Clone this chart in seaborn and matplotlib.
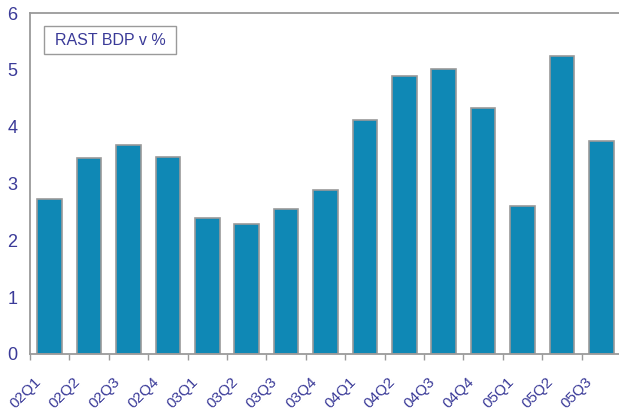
import seaborn as sns
import pandas as pd
import matplotlib.pyplot as plt
import matplotlib.transforms as mtransforms
from matplotlib.patches import Rectangle

# Data
quarters = ['02Q1', '02Q2', '02Q3', '02Q4', '03Q1', '03Q2', '03Q3', '03Q4',
            '04Q1', '04Q2', '04Q3', '04Q4', '05Q1', '05Q2', '05Q3']
growth = [2.73, 3.44, 3.67, 3.46, 2.39, 2.29, 2.55, 2.88,
          4.11, 4.89, 5.01, 4.32, 2.60, 5.24, 3.75]
legend_label = 'RAST BDP v %'

bar_color = '#0f88b5'
edge_color = '#9a9a9a'
text_color = '#3a3a98'

df = pd.DataFrame({'Quarter': quarters, 'Growth': growth})

sns.set_style('white')
plt.rcParams['font.family'] = ['Liberation Sans', 'DejaVu Sans']

fig = plt.figure(figsize=(6.19, 4.12), dpi=100)
ax = fig.add_axes([30 / 619, 58 / 412, 591 / 619, 341 / 412])

sns.barplot(x='Quarter', y='Growth', data=df, color=bar_color,
            edgecolor=edge_color, linewidth=1.2, width=0.62,
            saturation=1, ax=ax)

ax.set_xlim(-0.5, len(quarters) - 0.5)
ax.set_ylim(0, 6)
ax.set_yticks(range(0, 7))
ax.set_xlabel('')
ax.set_ylabel('')

# Spines
for side in ['left', 'bottom', 'top']:
    ax.spines[side].set_visible(True)
    ax.spines[side].set_color(edge_color)
    ax.spines[side].set_linewidth(1.3)
ax.spines['right'].set_visible(False)

# Ticks: labels at bar centers, tick marks at category boundaries
ax.set_xticks([i - 0.5 for i in range(len(quarters) + 1)], minor=True)
ax.tick_params(axis='x', which='minor', length=4, width=1, color=edge_color,
               direction='out', bottom=True)
ax.tick_params(axis='x', which='major', length=0, pad=15,
               labelsize=11, labelcolor=text_color)
ax.tick_params(axis='y', length=0, pad=9, labelsize=13, labelcolor=text_color)

offset = mtransforms.ScaledTranslation(-6 / 100, 0, fig.dpi_scale_trans)
for lbl in ax.get_xticklabels():
    lbl.set_rotation(45)
    lbl.set_ha('right')
    lbl.set_va('top')
    lbl.set_transform(lbl.get_transform() + offset)

# Legend-like box
ax.add_patch(Rectangle((14 / 591, 300 / 341), 132 / 591, 28 / 341,
                       transform=ax.transAxes, facecolor='white',
                       edgecolor=edge_color, linewidth=1, zorder=5))
ax.text(80 / 591, 314 / 341, legend_label, transform=ax.transAxes,
        ha='center', va='center', fontsize=11.5, color=text_color, zorder=6)

fig.savefig('out.png', dpi=100)
